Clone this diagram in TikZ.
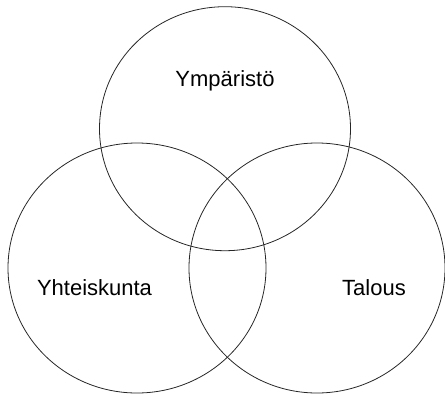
\documentclass[tikz,border=0pt]{standalone}
\usepackage{fontspec}
\setmainfont{Liberation Sans}
\begin{document}
\begin{tikzpicture}[x=1pt,y=-1pt,
  setc/.style={draw=black!85,line width=0.8pt},
  lbl/.style={font=\fontsize{22}{26}\selectfont}]
\useasboundingbox (0,0) rectangle (445,394);
\draw[setc] (225,128.7) ellipse [x radius=125.5, y radius=122];
\draw[setc] (137,268) ellipse [x radius=129, y radius=125];
\draw[setc] (317,268) ellipse [x radius=128, y radius=125];
\node[lbl] (env) at (225,81) {Ympäristö};
\node[lbl] (soc) at (94.5,288) {Yhteiskunta};
\node[lbl] (eco) at (374,288) {Talous};
\end{tikzpicture}
\end{document}
